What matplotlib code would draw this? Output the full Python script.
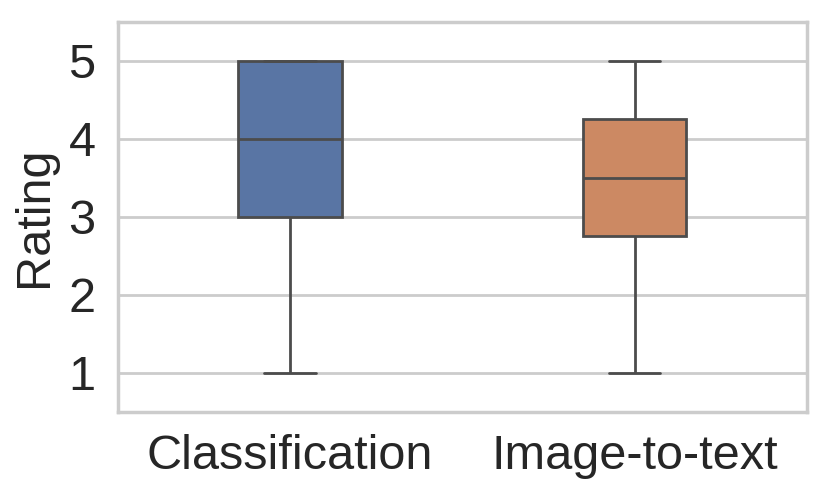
import pandas as pd
import seaborn as sns
import matplotlib.pyplot as plt

# ratings per task
classification = [1, 3, 4, 5, 5]
image_to_text = [1, 2, 3, 3, 4, 4, 5, 5]
tasks = ['Classification', 'Image-to-text']

data = pd.DataFrame({
    'Task': [tasks[0]] * len(classification) + [tasks[1]] * len(image_to_text),
    'Rating': classification + image_to_text,
})

sns.set_theme(style='whitegrid')
plt.rcParams['font.family'] = ['Liberation Sans', 'DejaVu Sans']

fig = plt.figure(figsize=(4.15, 2.49), dpi=200)
ax = fig.add_axes([0.142, 0.173, 0.830, 0.783])
sns.boxplot(data=data, x='Task', y='Rating', hue='Task', order=tasks,
            palette='deep', width=0.3, legend=False, ax=ax, linewidth=1)
ax.set_ylim(0.5, 5.5)
ax.set_yticks([1, 2, 3, 4, 5])
ax.set_xlabel('')
ax.set_ylabel('Rating', fontsize=17.5)
ax.tick_params(axis='both', labelsize=17.5, pad=2)
for s in ax.spines.values():
    s.set_color('#cccccc')

fig.savefig('out.png', dpi=200)
